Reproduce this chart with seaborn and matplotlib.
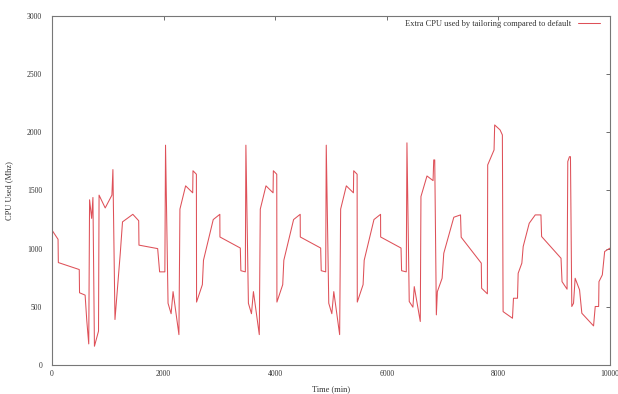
import numpy as np
import matplotlib
matplotlib.use("Agg")
import matplotlib.pyplot as plt
import seaborn as sns
import pandas as pd

# time (min) and extra CPU (Mhz)
time_start = [0, 110, 115, 490, 495, 595, 625, 660, 675, 712, 735, 762, 835, 845,
              955, 1075, 1093, 1130, 1225, 1265, 1450, 1555, 1560, 1895, 1930, 2024]
cpu_start = [1160, 1080, 880, 820, 620, 600, 380, 180, 1420, 1260, 1440, 160, 290, 1460,
             1350, 1460, 1680, 390, 960, 1230, 1295, 1240, 1030, 1000, 800, 800]

time_day1 = [2036, 2081, 2136, 2171, 2276, 2294, 2396, 2523, 2528, 2589, 2592, 2696,
             2716, 2891, 3009, 3011, 3376, 3386, 3466]
cpu_day1 = [1890, 530, 440, 630, 260, 1340, 1540, 1480, 1670, 1640, 540, 690,
            900, 1250, 1295, 1100, 1005, 810, 800]

time_day2 = [3476, 3521, 3576, 3611, 3716, 3734, 3836, 3963, 3968, 4029, 4032, 4136,
             4156, 4331, 4449, 4451, 4816, 4826, 4906]
cpu_day2 = [1890, 530, 440, 630, 260, 1340, 1540, 1480, 1670, 1640, 540, 690,
            900, 1250, 1295, 1100, 1005, 810, 800]

time_day3 = [4916, 4961, 5016, 5051, 5156, 5174, 5276, 5403, 5408, 5469, 5472, 5576,
             5596, 5771, 5889, 5891, 6256, 6266, 6350]
cpu_day3 = [1890, 530, 440, 630, 260, 1340, 1540, 1480, 1670, 1640, 540, 690,
            900, 1250, 1295, 1100, 1005, 810, 800]

time_end = [6362, 6403, 6469, 6493, 6601, 6613, 6721, 6830, 6842, 6860, 6889, 6907,
            6992, 7022, 7202, 7322, 7334, 7694, 7700, 7803, 7809, 7923, 7934, 8031,
            8072, 8085, 8253, 8271, 8343, 8355, 8421, 8445, 8553, 8661, 8763, 8775,
            9123, 9141, 9231, 9244, 9274, 9292, 9316, 9347, 9376, 9455, 9496, 9706,
            9736, 9797, 9803, 9863, 9905, 9995, 10050]
cpu_end = [1910, 545, 496, 673, 373, 1448, 1625, 1585, 1763, 1763, 430, 630,
           745, 960, 1270, 1290, 1098, 875, 659, 611, 1720, 1849, 2064, 2021,
           1978, 458, 401, 573, 573, 788, 875, 1018, 1218, 1290, 1290, 1104,
           917, 716, 651, 1749, 1791, 1791, 502, 530, 745, 645, 444, 335,
           502, 502, 716, 774, 975, 1003, 1000]

x_ticks = [0, 2000, 4000, 6000, 8000, 10000]
y_ticks = [0, 500, 1000, 1500, 2000, 2500, 3000]

df = pd.DataFrame({
    "time": time_start + time_day1 + time_day2 + time_day3 + time_end,
    "cpu": cpu_start + cpu_day1 + cpu_day2 + cpu_day3 + cpu_end,
})

sns.set_style("white")
plt.rcParams["font.family"] = ["Liberation Serif", "DejaVu Serif"]

fig = plt.figure(figsize=(6.18, 3.94), dpi=100)
ax = fig.add_axes([0.084, 0.074, 0.903, 0.885])

sns.lineplot(data=df, x="time", y="cpu", sort=False, estimator=None, ax=ax,
             color="#de5058", linewidth=0.75,
             label="Extra CPU used by tailoring compared to default")

ax.set_xlim(0, 10000)
ax.set_ylim(0, 3000)
ax.set_xticks(x_ticks)
ax.set_yticks(y_ticks)
ax.tick_params(direction="in", length=3, width=0.6, color="#555555",
               top=True, right=True, labelsize=5.5, labelcolor="#333333")
ax.tick_params(axis="y", pad=7)
ax.tick_params(axis="x", pad=4)
for s in ax.spines.values():
    s.set_color("#777777")
    s.set_linewidth(0.8)

ax.set_xlabel("Time (min)", fontsize=6, color="#333333", labelpad=5)
ax.set_ylabel("CPU Used (Mhz)", fontsize=6, color="#333333", labelpad=10)

ax.legend(loc="upper right", bbox_to_anchor=(0.995, 1.01), frameon=False,
          markerfirst=False, fontsize=6, handlelength=2.6, handletextpad=0.8,
          labelcolor="#333333")

fig.savefig("out.png", dpi=100)
